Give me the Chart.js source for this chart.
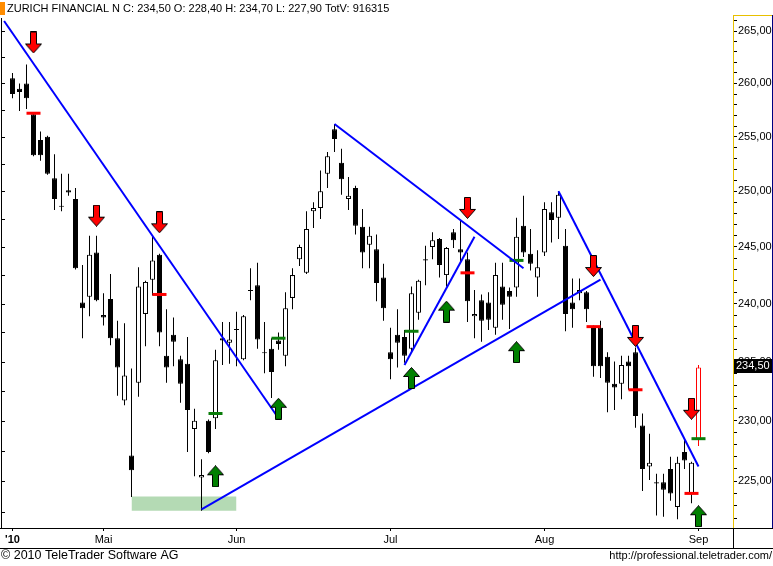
<!DOCTYPE html>
<html>
<head>
<meta charset="utf-8">
<script src="https://cdn.jsdelivr.net/npm/chart.js@4.4.0/dist/chart.umd.min.js"></script>
<style>
  html, body { margin: 0; padding: 0; background: #fff; }
  #chart { display: block; }
</style>
</head>
<body>
<canvas id="chart" width="773" height="566"></canvas>
<script>
// ZURICH FINANCIAL N, daily candles 14.04.2010 - 01.09.2010
const instrument = 'ZURICH FINANCIAL N';
const lastVolume = 916315;

const dates = [
  '2010-04-14','2010-04-15','2010-04-16','2010-04-19','2010-04-20','2010-04-21','2010-04-22','2010-04-23',
  '2010-04-26','2010-04-27','2010-04-28','2010-04-29','2010-04-30',
  '2010-05-03','2010-05-04','2010-05-05','2010-05-06','2010-05-07','2010-05-10','2010-05-11','2010-05-12',
  '2010-05-14','2010-05-17','2010-05-18','2010-05-19','2010-05-20','2010-05-21','2010-05-25','2010-05-26',
  '2010-05-27','2010-05-28','2010-05-31',
  '2010-06-01','2010-06-02','2010-06-03','2010-06-04','2010-06-07','2010-06-08','2010-06-09','2010-06-10',
  '2010-06-11','2010-06-14','2010-06-15','2010-06-16','2010-06-17','2010-06-18','2010-06-21','2010-06-22',
  '2010-06-23','2010-06-24','2010-06-25','2010-06-28','2010-06-29','2010-06-30',
  '2010-07-01','2010-07-02','2010-07-05','2010-07-06','2010-07-07','2010-07-08','2010-07-09','2010-07-12',
  '2010-07-13','2010-07-14','2010-07-15','2010-07-16','2010-07-19','2010-07-20','2010-07-21','2010-07-22',
  '2010-07-23','2010-07-26','2010-07-27','2010-07-28','2010-07-29','2010-07-30',
  '2010-08-02','2010-08-03','2010-08-04','2010-08-05','2010-08-06','2010-08-09','2010-08-10','2010-08-11',
  '2010-08-12','2010-08-13','2010-08-16','2010-08-17','2010-08-18','2010-08-19','2010-08-20','2010-08-23',
  '2010-08-24','2010-08-25','2010-08-26','2010-08-27','2010-08-30','2010-08-31',
  '2010-09-01'
];

const opens = [
  260.5, 259.5, 260.0, 257.1, 254.7, 255.0, 251.2, 248.7, 250.1, 249.3,
  240.1, 240.6, 244.5, 239.0, 240.4, 237.0, 231.7, 227.1, 233.2, 239.1,
  242.1, 244.3, 235.5, 237.3, 235.2, 234.8, 229.3, 225.3, 230.0, 230.2,
  237.0, 236.6, 237.8, 235.2, 241.2, 241.6, 235.8, 236.1, 236.8, 235.5,
  240.5, 243.9, 242.7, 248.2, 248.5, 251.6, 255.7, 252.6, 249.3, 250.3,
  246.8, 245.2, 244.8, 242.3, 235.8, 237.3, 237.1, 236.1, 239.2, 243.9,
  245.0, 245.7, 242.5, 246.3, 244.8, 243.9, 238.9, 240.3, 240.1, 237.9,
  241.5, 241.1, 241.4, 246.9, 244.4, 242.3, 244.5, 248.1, 247.6, 245.1,
  240.1, 240.9, 241.0, 238.0, 237.9, 235.4, 233.1, 233.1, 235.0, 235.8,
  229.6, 226.2, 224.9, 224.9, 226.0, 222.9, 227.4, 224.0, 228.4
];
const highs = [
  261.0, 260.0, 261.8, 257.2, 255.5, 255.1, 253.4, 251.6, 251.6, 250.3,
  243.4, 246.0, 246.0, 240.9, 242.6, 238.5, 238.3, 234.4, 243.2, 242.0,
  245.9, 244.4, 239.5, 238.8, 235.5, 237.1, 231.0, 226.8, 230.1, 236.0,
  238.4, 238.4, 239.3, 239.0, 243.1, 243.6, 238.4, 237.0, 237.5, 241.0,
  243.1, 245.2, 248.2, 249.0, 251.9, 253.6, 256.2, 253.9, 251.3, 250.5,
  248.4, 246.8, 246.1, 243.5, 237.9, 239.5, 237.7, 241.5, 242.1, 245.1,
  246.3, 245.8, 245.0, 246.6, 247.4, 244.5, 241.2, 240.8, 241.0, 243.6,
  243.6, 241.4, 247.6, 249.6, 246.6, 244.7, 249.0, 249.0, 250.0, 246.6,
  242.2, 242.2, 241.1, 238.1, 238.5, 235.8, 235.0, 235.5, 235.5, 236.2,
  230.6, 228.9, 225.6, 225.6, 227.0, 227.0, 228.4, 226.6, 234.7
];
const lows = [
  258.6, 257.4, 257.6, 253.2, 252.8, 251.5, 248.3, 248.2, 249.6, 243.0,
  237.0, 238.9, 240.2, 238.1, 236.4, 232.1, 231.3, 223.7, 232.0, 236.3,
  240.7, 236.3, 233.2, 234.6, 231.5, 227.4, 225.4, 222.6, 227.3, 229.3,
  234.7, 234.8, 234.6, 235.1, 240.3, 236.1, 234.0, 231.9, 236.0, 234.6,
  239.5, 243.3, 242.6, 246.7, 247.5, 250.3, 253.6, 249.7, 248.3, 246.1,
  243.1, 243.1, 240.2, 238.5, 233.5, 234.5, 234.9, 235.8, 238.6, 241.6,
  243.9, 242.3, 241.5, 244.9, 243.7, 238.4, 237.0, 236.7, 237.7, 237.3,
  238.6, 237.8, 240.6, 244.1, 242.9, 240.6, 244.2, 245.4, 245.7, 237.6,
  237.9, 240.3, 238.4, 233.7, 233.6, 230.7, 230.9, 231.8, 232.6, 229.4,
  224.2, 225.1, 222.2, 222.1, 223.4, 221.9, 226.0, 223.2, 227.9
];
const closes = [
  259.0, 259.2, 258.6, 253.3, 253.3, 251.6, 249.3, 248.6, 249.9, 243.1,
  239.6, 244.3, 240.3, 238.8, 237.0, 234.5, 233.8, 225.9, 241.5, 241.9,
  243.8, 237.5, 234.5, 236.7, 233.1, 230.9, 230.0, 225.5, 227.4, 235.1,
  236.8, 236.9, 237.7, 238.9, 241.1, 236.9, 235.7, 234.1, 236.5, 239.6,
  242.5, 245.0, 246.6, 248.5, 250.0, 253.2, 254.8, 251.1, 249.6, 246.9,
  244.5, 246.0, 241.8, 239.6, 235.2, 236.6, 235.5, 240.9, 242.0, 243.8,
  245.6, 243.4, 244.9, 245.6, 244.5, 240.2, 239.1, 238.5, 238.6, 242.5,
  239.9, 240.6, 245.9, 244.5, 243.5, 243.2, 248.4, 247.4, 249.7, 239.1,
  239.5, 241.2, 239.5, 234.6, 234.6, 233.2, 232.8, 234.7, 234.6, 230.4,
  226.0, 226.5, 224.8, 224.3, 224.0, 226.5, 226.7, 226.5, 234.5
];

// trend lines: [bar index, price] start and end
const trendLines = [
  [[-1.2, 265.97], [38, 230.2]],
  [[27, 222.7], [84, 242.1]],
  [[46, 256.2], [73, 243.1]],
  [[56, 234.7], [66, 245.9]],
  [[78, 250.0], [98, 226.2]]
];

// signals
const sellArrowBars = [3, 12, 21, 65, 83, 89, 97];
const sellArrowPrices = [263.9, 247.8, 247.2, 248.5, 243.3, 237.2, 231.0];
const buyArrowBars = [29, 38, 57, 62, 72, 98];
const buyArrowPrices = [225.4, 231.0, 233.6, 239.3, 235.8, 222.15];
const redStopBars = [3, 21, 65, 83, 89, 97];
const redStopPrices = [257.2, 240.8, 242.7, 238.0, 232.6, 224.0];
const greenStopBars = [29, 38, 57, 72, 98];
const greenStopPrices = [230.6, 237.0, 237.6, 243.8, 228.5];

// support zone
const zoneBars = [17, 32];
const zonePrices = [222.6, 223.75];

const labelledPrices = [225, 230, 235, 240, 245, 250, 255, 260, 265];
const monthNames = ['Jan','Feb','Mär','Apr','Mai','Jun','Jul','Aug','Sep','Okt','Nov','Dez'];

const FONT = '"Liberation Sans", Arial, sans-serif';
const last = dates.length - 1;

function fmt(v) { return v.toFixed(2).replace('.', ','); }

// first bar of each month -> x ticks
const monthStarts = [];
dates.forEach((d, i) => {
  if (i === 0 || d.slice(5, 7) !== dates[i - 1].slice(5, 7)) monthStarts.push(i);
});

function makeArrow(up, fill) {
  const c = document.createElement('canvas');
  c.width = 17; c.height = 22;
  const g = c.getContext('2d');
  let pts = [[8.5, 0.5], [16.5, 9.5], [11.5, 9.5], [11.5, 21.5], [5.5, 21.5], [5.5, 9.5], [0.5, 9.5]];
  if (!up) pts = pts.map(p => [p[0], 22 - p[1]]);
  g.beginPath();
  pts.forEach((p, i) => i ? g.lineTo(p[0], p[1]) : g.moveTo(p[0], p[1]));
  g.closePath();
  g.fillStyle = fill; g.fill();
  g.strokeStyle = '#000'; g.lineWidth = 1; g.stroke();
  return c;
}
const sellArrow = makeArrow(false, '#ff0000');
const buyArrow = makeArrow(true, '#008000');

const wicks = dates.map((d, i) => ({ x: i, y: [lows[i], highs[i]] }));
const bodies = dates.map((d, i) => ({ x: i, y: [opens[i], closes[i]] }));

const decor = {
  id: 'decor',
  beforeDraw(chart) {
    const c = chart.ctx;
    c.save();
    c.fillStyle = '#fff';
    c.fillRect(0, 0, chart.width, chart.height);
    c.restore();
  },
  afterDraw(chart) {
    const c = chart.ctx, a = chart.chartArea, ys = chart.scales.y;
    const W = chart.width;
    c.save();
    // title
    c.fillStyle = '#ff8c00';
    c.fillRect(0, 2, 5, 13);
    c.fillStyle = '#000';
    c.font = '11px ' + FONT;
    c.textBaseline = 'middle';
    c.textAlign = 'left';
    c.fillText(instrument + ' C: ' + fmt(closes[last]) + ' O: ' + fmt(opens[last]) + ' H: ' + fmt(highs[last]) +
      ' L: ' + fmt(lows[last]) + ' TotV: ' + lastVolume, 7, 9);

    // left border with ticks
    c.fillStyle = '#000';
    c.fillRect(1, a.top + 3, 1, a.bottom - a.top - 3);
    for (let v = 222.5; v <= 266; v += 2.5) {
      const py = Math.round(ys.getPixelForValue(v));
      c.fillRect(1, py, 4, 1);
    }
    // right decoration
    c.fillStyle = '#e8c000';
    c.fillRect(a.right, a.top, W - a.right, 1);
    c.fillStyle = '#000080';
    c.fillRect(W - 1, a.top, 1, a.bottom - a.top);

    // bottom frame
    c.fillStyle = '#000';
    c.fillRect(0, a.bottom, W, 1);
    c.fillRect(0, a.bottom + 20, W, 1);
    c.fillRect(a.right, a.bottom, 1, 20);

    // last price tag
    const py = Math.round(ys.getPixelForValue(closes[last]));
    c.fillStyle = '#000';
    c.fillRect(a.right + 1, py - 8, W - a.right - 2, 14);
    c.fillStyle = '#fff';
    c.font = '11px ' + FONT;
    c.fillText(fmt(closes[last]), a.right + 3, py - 1);

    // footer
    c.fillStyle = '#000';
    c.font = '12.5px ' + FONT;
    c.textAlign = 'left';
    c.fillText('\u00a9 2010 TeleTrader Software AG', 1, 556);
    c.font = '11px ' + FONT;
    c.textAlign = 'right';
    c.fillText('http://professional.teletrader.com/', W - 1, 556);
    c.restore();
  }
};

const datasets = [
  {
    type: 'line', label: 'zone', order: 10,
    data: zoneBars.map(b => ({ x: b, y: zonePrices[1] })),
    borderWidth: 0, pointRadius: 0, backgroundColor: '#b4dab4',
    fill: { value: zonePrices[0] }
  },
  {
    type: 'bar', label: 'wick', order: 6,
    data: wicks, barThickness: 1, grouped: false, inflateAmount: 0,
    backgroundColor: wicks.map((w, i) => i === last ? '#ff0000' : '#000'),
    borderWidth: 0
  },
  {
    type: 'bar', label: 'body', order: 5,
    data: bodies, barThickness: 5, grouped: false, inflateAmount: 0, minBarLength: 1,
    backgroundColor: bodies.map((b, i) => (i === last || closes[i] >= opens[i]) ? '#fff' : '#000'),
    borderColor: bodies.map((b, i) => i === last ? '#ff0000' : '#000'),
    borderWidth: 1, borderSkipped: false
  },
  {
    type: 'line', label: 'red stops', order: 4, showLine: false,
    data: redStopBars.map((b, i) => ({ x: b, y: redStopPrices[i] })),
    pointStyle: 'line', pointRadius: 7, pointBorderWidth: 3, pointBorderColor: '#ff0000'
  },
  {
    type: 'line', label: 'green stops', order: 4, showLine: false,
    data: greenStopBars.map((b, i) => ({ x: b, y: greenStopPrices[i] })),
    pointStyle: 'line', pointRadius: 7, pointBorderWidth: 3, pointBorderColor: '#0a7d0a'
  }
];

trendLines.forEach((t, k) => {
  datasets.push({
    type: 'line', label: 'trend ' + k, order: 3,
    data: t.map(p => ({ x: p[0], y: p[1] })),
    borderColor: '#0000ff', borderWidth: 2, pointRadius: 0, tension: 0, fill: false
  });
});

datasets.push({
  type: 'line', label: 'sell', order: 1, showLine: false,
  data: sellArrowBars.map((b, i) => ({ x: b, y: sellArrowPrices[i] })),
  pointStyle: sellArrow, pointRadius: 10
});
datasets.push({
  type: 'line', label: 'buy', order: 1, showLine: false,
  data: buyArrowBars.map((b, i) => ({ x: b, y: buyArrowPrices[i] })),
  pointStyle: buyArrow, pointRadius: 10
});

new Chart(document.getElementById('chart'), {
  type: 'line',
  data: { datasets: datasets },
  plugins: [decor],
  options: {
    responsive: false,
    animation: false,
    devicePixelRatio: 1,
    layout: { autoPadding: false, padding: { left: 3, top: 15, right: 0, bottom: 18 } },
    plugins: { legend: { display: false }, tooltip: { enabled: false } },
    scales: {
      x: {
        type: 'linear', offset: false,
        min: -1.357, max: 102.929,
        afterBuildTicks: s => { s.ticks = monthStarts.map(v => ({ value: v })); },
        afterFit: s => { s.height = 20; s.paddingLeft = 0; s.paddingRight = 0; },
        grid: { display: true, drawOnChartArea: false, offset: false, tickLength: 3, color: '#000' },
        border: { display: false },
        ticks: {
          autoSkip: false, maxRotation: 0, padding: 2, color: '#000',
          font: ctx => ({ family: FONT, size: 11, weight: ctx.index === 0 ? 'bold' : 'normal' }),
          callback: v => {
            const d = dates[v];
            if (v === 0) return "'" + d.slice(2, 4);
            return monthNames[parseInt(d.slice(5, 7), 10) - 1];
          }
        }
      },
      y: {
        type: 'logarithmic', position: 'right',
        min: 221.2, max: 266.55, beginAtZero: false,
        afterBuildTicks: s => {
          const t = [];
          for (let v = 222; v <= 266; v++) t.push({ value: v });
          s.ticks = t;
        },
        afterFit: s => { s.width = 40; s.paddingTop = 0; s.paddingBottom = 0; },
        grid: { display: true, drawOnChartArea: false, tickLength: 4, color: '#000' },
        border: { display: true, color: '#e8c000', dash: [1, 1] },
        ticks: {
          autoSkip: false, padding: 1, color: '#000',
          font: { family: FONT, size: 11 },
          callback: v => labelledPrices.includes(v) ? fmt(v) : ''
        }
      }
    }
  }
});
</script>
</body>
</html>
